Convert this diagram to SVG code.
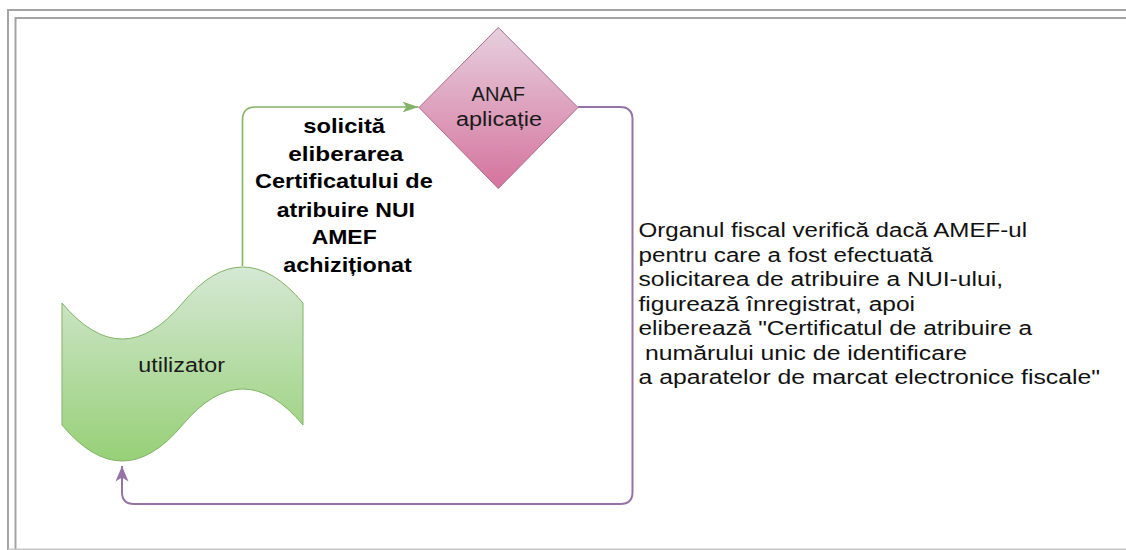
<svg xmlns="http://www.w3.org/2000/svg" width="1126" height="550" viewBox="0 0 1126 550">
  <style>
    .frame { fill: none; stroke: #a3a3a3; stroke-width: 2; }
    .lbl { font-family: "Liberation Sans", Arial, sans-serif; font-size: 20.5px; font-weight: bold; fill: #000; text-anchor: middle; }
    .note { font-family: "Liberation Sans", Arial, sans-serif; font-size: 20px; fill: #111; }
    .shapetxt { font-family: "Liberation Sans", Arial, sans-serif; font-size: 20px; fill: #1a1a1a; text-anchor: middle; }
    .conn-green { fill: none; stroke: #82b366; stroke-width: 1.6; }
    .conn-purple { fill: none; stroke: #9673a6; stroke-width: 2; }
  </style>
  <defs>
    <linearGradient id="gGreen" x1="0" y1="0" x2="0" y2="1">
      <stop offset="0" stop-color="#d5e8d4"/>
      <stop offset="1" stop-color="#97d077"/>
    </linearGradient>
    <linearGradient id="gPink" x1="0" y1="0" x2="0" y2="1">
      <stop offset="0" stop-color="#e6d0de"/>
      <stop offset="1" stop-color="#d5739d"/>
    </linearGradient>
    <marker id="arrGreen" markerUnits="userSpaceOnUse" viewBox="-16 -6 17 12" refX="0" refY="0" markerWidth="17" markerHeight="12" orient="auto">
      <path d="M0,0 L-16,-5.5 L-12,0 L-16,5.5 Z" fill="#82b366"/>
    </marker>
    <marker id="arrPurple" markerUnits="userSpaceOnUse" viewBox="-16 -7 17 14" refX="0" refY="0" markerWidth="17" markerHeight="14" orient="auto">
      <path d="M0,0 L-15.5,-6.5 L-11.5,0 L-15.5,6.5 Z" fill="#9673a6"/>
    </marker>
  </defs>

  <rect x="0" y="0" width="1126" height="550" fill="#ffffff"/>

  <g id="frame">
    <path class="frame" d="M8,550 V10 H1126"/>
    <path class="frame" d="M15.5,550 V18 H1126"/>
    <line x1="8" y1="549.2" x2="1126" y2="549.2" stroke="#c8c8c8" stroke-width="1.5"/>
  </g>

  <g id="connectors">
    <path class="conn-green" d="M242.5,266 V120 Q242.5,107 255.5,107 H418.5" marker-end="url(#arrGreen)"/>
    <path class="conn-purple" d="M578,107 H620 Q632.5,107 632.5,119.5 V492 Q632.5,504 620.5,504 H134 Q122,504 122,492 V466" marker-end="url(#arrPurple)"/>
  </g>

  <g id="label-request">
    <text class="lbl" x="344.2" y="133" textLength="81.7" lengthAdjust="spacingAndGlyphs">solicită</text>
    <text class="lbl" x="345.8" y="160.7" textLength="115" lengthAdjust="spacingAndGlyphs">eliberarea</text>
    <text class="lbl" x="343.9" y="188.3" textLength="177.7" lengthAdjust="spacingAndGlyphs">Certificatului de</text>
    <text class="lbl" x="345.8" y="216.7" textLength="138.3" lengthAdjust="spacingAndGlyphs">atribuire NUI</text>
    <text class="lbl" x="344.2" y="244" textLength="65" lengthAdjust="spacingAndGlyphs">AMEF</text>
    <text class="lbl" x="347.5" y="271.7" textLength="128.4" lengthAdjust="spacingAndGlyphs">achiziționat</text>
  </g>

  <g id="node-anaf">
    <polygon points="498.3,27.5 578,107.5 498.3,188.5 419,107.5" fill="url(#gPink)" stroke="#a96b90" stroke-width="1"/>
    <text class="shapetxt" x="498.3" y="101" textLength="53.5" lengthAdjust="spacingAndGlyphs">ANAF</text>
    <text class="shapetxt" x="499" y="126" textLength="86" lengthAdjust="spacingAndGlyphs">aplicație</text>
  </g>

  <g id="node-utilizator">
    <path d="M62,303 Q122.25,375 182.5,303 Q242.75,231 303,303 L303,425 Q242.75,353 182.5,425 Q122.25,497 62,425 Z" fill="url(#gGreen)" stroke="#82b366" stroke-width="1"/>
    <text class="shapetxt" x="181.7" y="372" font-size="21.5" textLength="86.7" lengthAdjust="spacingAndGlyphs">utilizator</text>
  </g>

  <g id="label-response">
    <text class="note" x="638.5" y="237" textLength="388.5" lengthAdjust="spacingAndGlyphs">Organul fiscal verifică dacă AMEF-ul</text>
    <text class="note" x="638.5" y="261.5" textLength="294.5" lengthAdjust="spacingAndGlyphs">pentru care a fost efectuată</text>
    <text class="note" x="638.5" y="286" textLength="364.5" lengthAdjust="spacingAndGlyphs">solicitarea de atribuire a NUI-ului,</text>
    <text class="note" x="638.5" y="310.5" textLength="276.5" lengthAdjust="spacingAndGlyphs">figurează înregistrat, apoi</text>
    <text class="note" x="638.5" y="335" textLength="393.5" lengthAdjust="spacingAndGlyphs">eliberează "Certificatul de atribuire a</text>
    <text class="note" x="645" y="359.5" textLength="322" lengthAdjust="spacingAndGlyphs">numărului unic de identificare</text>
    <text class="note" x="638.5" y="384" textLength="461.5" lengthAdjust="spacingAndGlyphs">a aparatelor de marcat electronice fiscale"</text>
  </g>
</svg>
